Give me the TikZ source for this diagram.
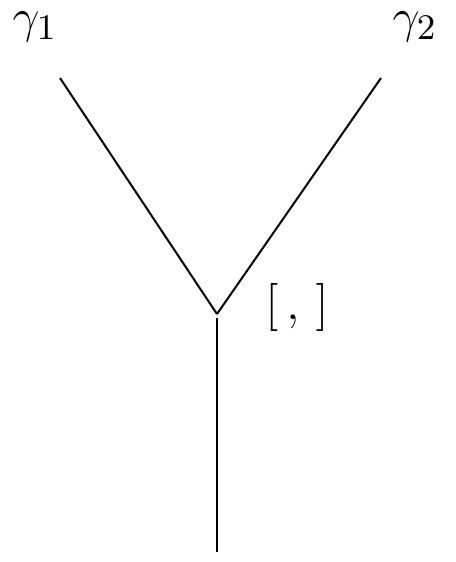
\documentclass[tikz,border=0pt]{standalone}
\begin{document}
\begin{tikzpicture}[x=0.25pt,y=-0.25pt,line width=0.5pt,
  lbl/.style={inner sep=0pt,font=\fontsize{12.3}{14}\selectfont}]
\useasboundingbox (0,0) rectangle (455,562);
\coordinate (a) at (60,78);
\coordinate (b) at (381,78);
\coordinate (j) at (217,314);
\coordinate (jb) at (217,318);
\coordinate (c) at (217,552);
\draw (a) -- (j);
\draw (b) -- (j);
\draw (jb) -- (c);
\node[lbl] (g1) at (35,27) {$\gamma_1$};
\node[lbl] (g2) at (415,27) {$\gamma_2$};
\node[lbl] (br) at (297,307) {$[\,,\,]$};
\end{tikzpicture}
\end{document}
